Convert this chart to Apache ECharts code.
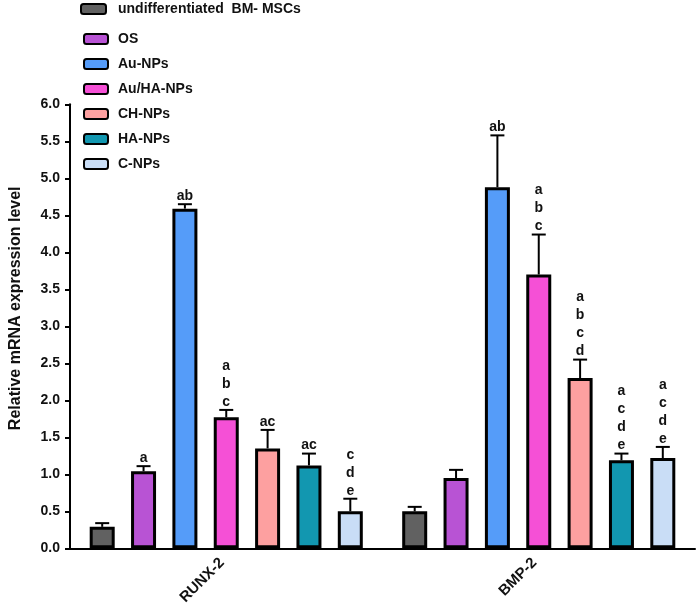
<!DOCTYPE html>
<html>
<head>
<meta charset="utf-8">
<script src="https://cdn.jsdelivr.net/npm/echarts@6/dist/echarts.min.js"></script>
<style>
  html, body { margin: 0; padding: 0; background: #fff; }
  #chart { width: 697px; height: 612px; }
</style>
</head>
<body>
<div id="chart"></div>
<script>
const categories = ['RUNX-2', 'BMP-2'];
const seriesNames = ['undifferentiated  BM- MSCs', 'OS', 'Au-NPs', 'Au/HA-NPs', 'CH-NPs', 'HA-NPs', 'C-NPs'];
const colors = ['#616161', '#b853d4', '#559cf9', '#f550d6', '#fda0a0', '#1297b0', '#c9ddf6'];

const runxMeans   = [0.29, 1.04, 4.59, 1.77, 1.35, 1.12, 0.50];
const runxErrors  = [0.05, 0.07, 0.06, 0.10, 0.25, 0.16, 0.17];
const runxLetters = ['', 'a', 'ab', 'a\nb\nc', 'ac', 'ac', 'c\nd\ne'];

const bmpMeans   = [0.50, 0.95, 4.88, 3.70, 2.30, 1.19, 1.22];
const bmpErrors  = [0.06, 0.11, 0.70, 0.54, 0.25, 0.09, 0.15];
const bmpLetters = ['', '', 'ab', 'a\nb\nc', 'a\nb\nc\nd', 'a\nc\nd\ne', 'a\nc\nd\ne'];

const yMin = 0, yMax = 6, yStep = 0.5;

const FONT = '"Liberation Sans", Arial, Helvetica, sans-serif';
const BAR_W = 25;
const BAR_GAP = 0.654;
const STEP = BAR_W * (1 + BAR_GAP);

const meansByCat = [runxMeans, bmpMeans];
const errsByCat = [runxErrors, bmpErrors];
const lettersByCat = [runxLetters, bmpLetters];

const errData = [];
const errLetters = [];
for (let c = 0; c < categories.length; c++) {
  for (let i = 0; i < seriesNames.length; i++) {
    errData.push([c, i, meansByCat[c][i], errsByCat[c][i]]);
    errLetters.push(lettersByCat[c][i]);
  }
}

const barSeries = seriesNames.map((name, i) => ({
  type: 'bar',
  name: name,
  data: [runxMeans[i], bmpMeans[i]],
  barWidth: BAR_W,
  barGap: (BAR_GAP * 100) + '%',
  itemStyle: { color: colors[i], borderColor: '#000', borderWidth: 3 },
  z: 2
}));

const errSeries = {
  type: 'custom',
  name: 'errors',
  data: errData,
  encode: { x: 0, y: 2 },
  z: 5,
  silent: true,
  renderItem: function (params, api) {
    const c = api.value(0), i = api.value(1), v = api.value(2), e = api.value(3);
    const base = api.coord([c, v]);
    const top = api.coord([c, v + e]);
    const n = seriesNames.length;
    const x = base[0] + (i - (n - 1) / 2) * STEP;
    const children = [
      { type: 'line', shape: { x1: x, y1: base[1], x2: x, y2: top[1] }, style: { stroke: '#000', lineWidth: 2 } },
      { type: 'line', shape: { x1: x - 7, y1: top[1], x2: x + 7, y2: top[1] }, style: { stroke: '#000', lineWidth: 2 } }
    ];
    const txt = errLetters[params.dataIndex];
    if (txt) {
      children.push({
        type: 'text',
        x: x, y: top[1] + 1,
        style: {
          text: txt, textAlign: 'center', textVerticalAlign: 'bottom',
          font: 'bold 14px ' + FONT, lineHeight: 18, fill: '#111'
        }
      });
    }
    return { type: 'group', children: children };
  }
};

const legendText = { fontFamily: FONT, fontWeight: 'bold', fontSize: 14, color: '#111', padding: [0, 0, 0, 5] };

const chart = echarts.init(document.getElementById('chart'), null, { renderer: 'canvas' });
chart.setOption({
  animation: false,
  backgroundColor: '#fff',
  textStyle: { fontFamily: FONT },
  grid: { left: 63, right: 2, top: 104.3, bottom: 63.7, containLabel: false },
  legend: [
    {
      data: [seriesNames[0]], left: 80, top: 2, padding: 0,
      itemWidth: 25, itemHeight: 10, selectedMode: false,
      textStyle: Object.assign({}, legendText, { padding: [0, 0, 0, 7] })
    },
    {
      data: seriesNames.slice(1), orient: 'vertical', left: 83, top: 32, padding: 0,
      itemGap: 11, itemWidth: 24, itemHeight: 10, selectedMode: false,
      textStyle: legendText
    }
  ],
  xAxis: {
    type: 'category',
    data: categories,
    axisLine: { lineStyle: { color: '#000', width: 2 } },
    axisTick: { alignWithLabel: true, length: 5, lineStyle: { color: '#000', width: 2 } },
    axisLabel: { rotate: 45, fontWeight: 'bold', fontSize: 15, color: '#111', margin: 8, padding: [0, 6, 0, 0], fontFamily: FONT },
    splitLine: { show: false }
  },
  yAxis: {
    type: 'value',
    min: yMin, max: yMax, interval: yStep,
    name: 'Relative mRNA expression level',
    nameLocation: 'middle',
    nameGap: 46,
    nameTextStyle: { fontSize: 16, fontWeight: 'bold', color: '#111', fontFamily: FONT, padding: [0, 0, 0, 36] },
    axisLine: { show: true, lineStyle: { color: '#000', width: 2 } },
    axisTick: { show: true, length: 5, lineStyle: { color: '#000', width: 2 } },
    axisLabel: { fontWeight: 'bold', fontSize: 14, color: '#111', margin: 10, fontFamily: FONT,
      formatter: v => v.toFixed(1) },
    splitLine: { show: false }
  },
  series: barSeries.concat([errSeries])
});
</script>
</body>
</html>
